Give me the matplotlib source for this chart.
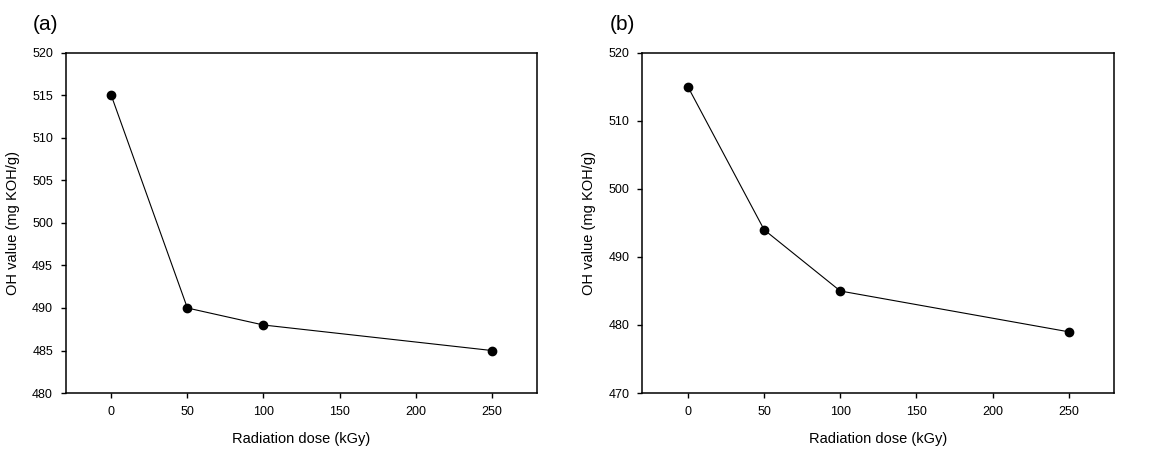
import matplotlib
matplotlib.use("Agg")
import matplotlib.pyplot as plt

plt.rcParams['font.family'] = ['Liberation Sans', 'DejaVu Sans']

# data
dose = [0, 50, 100, 250]
oh_a = [515, 490, 488, 485]
oh_b = [515, 494, 485, 479]

fig = plt.figure(figsize=(11.58, 4.51), dpi=100)
ax_a = fig.add_axes([0.0567, 0.1286, 0.4073, 0.7539])
ax_b = fig.add_axes([0.5547, 0.1286, 0.4076, 0.7539])


def style_axes(ax, yvals, ylim, yticks):
    ax.plot(dose, yvals, color='black', lw=0.8, marker='o', ms=6,
            mfc='black', mec='black')
    ax.set_xlim(-30, 280)
    ax.set_ylim(*ylim)
    ax.set_xticks([0, 50, 100, 150, 200, 250])
    ax.set_yticks(yticks)
    ax.tick_params(direction='out', length=3.6, width=1.0, labelsize=9,
                   pad=5.5, top=False, right=False)
    for s in ax.spines.values():
        s.set_linewidth(1.1)
    ax.set_xlabel('Radiation dose (kGy)', fontsize=10.5, labelpad=10)
    ax.set_ylabel('OH value (mg KOH/g)', fontsize=10.5, labelpad=9)


style_axes(ax_a, oh_a, (480, 520), list(range(480, 521, 5)))
style_axes(ax_b, oh_b, (470, 520), list(range(470, 521, 10)))

fig.text(33 / 1158, 1 - 25 / 451, '(a)', fontsize=15, va='center', ha='left')
fig.text(610 / 1158, 1 - 25 / 451, '(b)', fontsize=15, va='center', ha='left')

fig.savefig('out.png', dpi=100)
